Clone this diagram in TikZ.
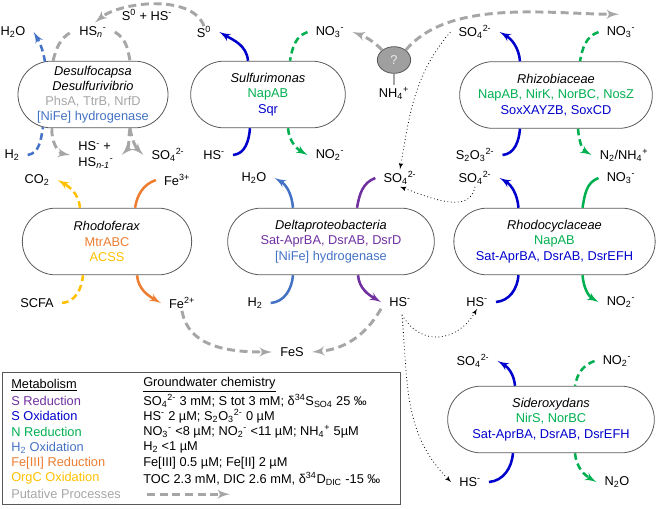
\documentclass[tikz,border=0pt]{standalone}
\usepackage{fontspec}
\setmainfont{Liberation Sans}
\usepackage{tikz}
\usetikzlibrary{arrows,calc,shapes.misc,shapes.geometric}

\definecolor{sredc}{HTML}{7030A0}
\definecolor{soxc}{HTML}{0000CC}
\definecolor{nredc}{HTML}{00B050}
\definecolor{hoxc}{HTML}{4472C4}
\definecolor{fec}{HTML}{ED7D31}
\definecolor{orgcc}{HTML}{FFC000}
\definecolor{putc}{HTML}{A6A6A6}
\definecolor{boxc}{HTML}{595959}

\newcommand{\ssub}[1]{\textsubscript{#1}}
\newcommand{\ssup}[1]{\textsuperscript{#1}}

\begin{document}
\begin{tikzpicture}[x=0.75pt,y=-0.75pt,>=latex',
		every node/.style={font=\fontsize{9.6}{11.4}\selectfont},
		org/.style={draw=boxc,line width=0.6pt,rounded rectangle,minimum height=50pt,align=center,inner sep=2pt},
		lbl/.style={inner xsep=6pt,inner ysep=1.5pt},
		legtxt/.style={anchor=west,inner sep=0pt},
		sred/.style={draw=sredc,line width=1.9pt},
		sox/.style={draw=soxc,line width=1.9pt},
		nred/.style={draw=nredc,line width=1.9pt},
		hox/.style={draw=hoxc,line width=1.9pt},
		fered/.style={draw=fec,line width=1.9pt},
		corg/.style={draw=orgcc,line width=1.9pt},
		dsh/.style={dash pattern=on 5pt off 3pt},
		puta/.style={draw=putc,line width=2.2pt,dash pattern=on 6pt off 3.5pt},
		link/.style={draw=black,line width=0.6pt,dotted}]
		\useasboundingbox (0,0) rectangle (660,508);

		\node[org,minimum width=112.5pt] (desulfo) at (93,94.5) {\textit{Desulfocapsa}\\\textit{Desulfurivibrio}\\\textcolor{putc}{PhsA, TtrB, NrfD}\\\textcolor{hoxc}{[NiFe] hydrogenase}};
		\node[org,minimum width=120pt] (sulfuri) at (268,94.5) {\textit{Sulfurimonas}\\\textcolor{nredc}{NapAB}\\\textcolor{soxc}{Sqr}};
		\node[org,minimum width=148.5pt] (rhizo) at (556,95) {\textit{Rhizobiaceae}\\\textcolor{nredc}{NapAB, NirK, NorBC, NosZ}\\\textcolor{soxc}{SoxXAYZB, SoxCD}};
		\node[org,minimum width=131pt] (rhodof) at (107,241.5) {\textit{Rhodoferax}\\\textcolor{fec}{MtrABC}\\\textcolor{orgcc}{ACSS}};
		\node[org,minimum width=159pt] (delta) at (331,241.5) {\textit{Deltaproteobacteria}\\\textcolor{sredc}{Sat-AprBA, DsrAB, DsrD}\\\textcolor{hoxc}{[NiFe] hydrogenase}};
		\node[org,minimum width=155pt] (rhodoc) at (554.5,241.5) {\textit{Rhodocyclaceae}\\\textcolor{nredc}{NapAB}\\\textcolor{soxc}{Sat-AprBA, DsrAB, DsrEFH}};
		\node[org,minimum width=159pt] (sidero) at (551,419.5) {\textit{Sideroxydans}\\\textcolor{nredc}{NirS, NorBC}\\\textcolor{soxc}{Sat-AprBA, DsrAB, DsrEFH}};

		\node[ellipse,draw=boxc,line width=0.6pt,fill=gray!75,minimum width=25pt,minimum height=20pt,inner sep=0pt,text=white!85!gray] (unk) at (394,60) {?};

		\node[lbl] (h2o_1) at (13,32) {H\ssub{2}O};
		\node[lbl] (hsn) at (93,32) {HS\ssub{\textit{n}}\ssup{-}};
		\node[lbl] (s0) at (204,32) {S\ssup{0}};
		\node[lbl] (s0hs) at (147,15) {S\ssup{0} + HS\ssup{-}};
		\node[lbl] (no3_1) at (330,32) {NO\ssub{3}\ssup{-}};
		\node[lbl] (nh4) at (394,93) {NH\ssub{4}\ssup{+}};
		\node[lbl] (so4_top) at (475,32) {SO\ssub{4}\ssup{2-}};
		\node[lbl] (no3_2) at (621,32) {NO\ssub{3}\ssup{-}};

		\node[lbl] (h2_1) at (12,155) {H\ssub{2}};
		\node[lbl,align=left] (hsmix) at (96,155) {HS\ssup{-} +\\HS\ssub{\textit{n-1}}\ssup{-}};
		\node[lbl] (so4_1) at (168,155) {SO\ssub{4}\ssup{2-}};
		\node[lbl] (hs_1) at (214,155) {HS\ssup{-}};
		\node[lbl] (no2_1) at (330,155) {NO\ssub{2}\ssup{-}};
		\node[lbl] (s2o3) at (475,155) {S\ssub{2}O\ssub{3}\ssup{2-}};
		\node[lbl] (n2nh4) at (624,155) {N\ssub{2}/NH\ssub{4}\ssup{+}};

		\node[lbl] (co2) at (37,180) {CO\ssub{2}};
		\node[lbl] (fe3) at (177,180) {Fe\ssup{3+}};
		\node[lbl] (h2o_2) at (254,178) {H\ssub{2}O};
		\node[lbl] (so4_2) at (400,178) {SO\ssub{4}\ssup{2-}};
		\node[lbl] (so4_3) at (475,178) {SO\ssub{4}\ssup{2-}};
		\node[lbl] (no3_3) at (621,178) {NO\ssub{3}\ssup{-}};

		\node[lbl] (scfa) at (37,303) {SCFA};
		\node[lbl] (fe2) at (182,303) {Fe\ssup{2+}};
		\node[lbl] (h2_2) at (255,303) {H\ssub{2}};
		\node[lbl] (hs_2) at (400,302) {HS\ssup{-}};
		\node[lbl] (hs_3) at (477,302) {HS\ssup{-}};
		\node[lbl] (no2_2) at (621,302) {NO\ssub{2}\ssup{-}};

		\node[lbl] (fes) at (292,352) {FeS};
		\node[lbl] (so4_4) at (473,361) {SO\ssub{4}\ssup{2-}};
		\node[lbl] (no2_3) at (617,361) {NO\ssub{2}\ssup{-}};
		\node[lbl] (hs_4) at (470,482) {HS\ssup{-}};
		\node[lbl] (n2o) at (617,482) {N\ssub{2}O};

		\draw[hox,dsh,->] ($(desulfo.north)+(-48,1)$) to[out=100,in=-60] (h2o_1.east);
		\draw[puta] ($(desulfo.north)+(-40,0)$) to[out=75,in=-150] (hsn.west);
		\draw[puta] (hsn.east) to[out=-30,in=100] ($(desulfo.north)+(37,0)$);
		\draw[puta,->,shorten >=2pt] ($(s0.north)+(0,2)$) to[out=110,in=40,looseness=0.8] (hsn.north);
		\draw[hox,dsh] (h2_1.east) to[out=10,in=-100] ($(desulfo.south)+(-50,-1)$);
		\draw[puta,->] ($(desulfo.south)+(-41,0)$) to[out=-95,in=170] (hsmix.west);
		\draw[puta,->] ($(desulfo.south)+(37,0)$) to[out=-100,in=45] (hsmix.east);
		\draw[puta,->] ($(desulfo.south)+(37,0)$) to[out=-80,in=135] (so4_1.west);

		\draw[sox,->] ($(sulfuri.north)+(-20,0)$) to[out=95,in=-30] (s0.east);
		\draw[nred,dsh] (no3_1.west) to[out=200,in=80] ($(sulfuri.north)+(22,0)$);
		\draw[sox] (hs_1.east) to[out=5,in=-95] ($(sulfuri.south)+(-18,0)$);
		\draw[nred,dsh,->] ($(sulfuri.south)+(20,0)$) to[out=-85,in=150] (no2_1.west);

		\draw[puta,->] (unk.140) to[out=135,in=-20] (no3_1.east);
		\draw[puta,->] (unk.40) to[out=50,in=180,looseness=0.8] ($(no3_2.north)+(-2,-10)$);
		\draw[draw=putc,line width=2.2pt] (unk.south) -- (nh4.north);

		\draw[link,->] (so4_top.west) to[out=-130,in=80] (so4_2.north);
		\draw[link,->] (so4_3.south) to[out=-100,in=-20] (so4_2.south);
		\draw[link,->] ($(hs_2.south)+(2,6)$) to[out=-60,in=-120,looseness=1.3] (hs_3.south);
		\draw[link,->] ($(hs_2.south)+(2,6)$) to[out=-85,in=135] (hs_4.west);
		\draw[puta,->] (fe2.south) to[out=-80,in=180] (fes.west);
		\draw[puta,->] (hs_2.south west) to[out=-120,in=5] (fes.east);

		\draw[corg,dsh,->] ($(rhodof.north)+(-27,0)$) to[out=95,in=-30] (co2.east);
		\draw[fered] (fe3.west) to[out=200,in=80] ($(rhodof.north)+(28,0)$);
		\draw[corg,dsh] (scfa.east) to[out=5,in=-95] ($(rhodof.south)+(-24,0)$);
		\draw[fered,->] ($(rhodof.south)+(30,0)$) to[out=-85,in=150] (fe2.west);

		\draw[hox,->] ($(delta.north)+(-38,0)$) to[out=95,in=-30] (h2o_2.east);
		\draw[sred] (so4_2.west) to[out=200,in=80] ($(delta.north)+(26,0)$);
		\draw[hox] (h2_2.east) to[out=5,in=-95] ($(delta.south)+(-38,0)$);
		\draw[sred,->] ($(delta.south)+(27,0)$) to[out=-85,in=150] (hs_2.west);

		\draw[sox,->] ($(rhodoc.north)+(-36,0)$) to[out=95,in=-30] (so4_3.east);
		\draw[nred] (no3_3.west) to[out=200,in=80] ($(rhodoc.north)+(28,0)$);
		\draw[sox] (hs_3.east) to[out=5,in=-95] ($(rhodoc.south)+(-36,0)$);
		\draw[nred,->] ($(rhodoc.south)+(28,0)$) to[out=-85,in=150] (no2_2.west);

		\draw[sox,->] ($(rhizo.north)+(-36,0)$) to[out=95,in=-30] (so4_top.east);
		\draw[nred,dsh] (no3_2.west) to[out=200,in=80] ($(rhizo.north)+(24,0)$);
		\draw[sox] (s2o3.east) to[out=5,in=-95] ($(rhizo.south)+(-36,0)$);
		\draw[nred,dsh,->] ($(rhizo.south)+(22,0)$) to[out=-85,in=150] (n2nh4.west);

		\draw[sox,->] ($(sidero.north)+(-36,0)$) to[out=95,in=-30] (so4_4.east);
		\draw[nred,dsh] (no2_3.west) to[out=200,in=80] ($(sidero.north)+(24,0)$);
		\draw[sox] (hs_4.east) to[out=5,in=-95] ($(sidero.south)+(-38,0)$);
		\draw[nred,dsh,->] ($(sidero.south)+(24,0)$) to[out=-85,in=150] (n2o.west);

		\draw[draw=boxc,line width=0.6pt] (2,372) rectangle (400,504);
		\node[legtxt] (leg_m) at (11,385) {\underline{Metabolism}};
		\node[legtxt,text=sredc] (leg_sr) at (11,400.6) {S Reduction};
		\node[legtxt,text=soxc] (leg_so) at (11,416.2) {S Oxidation};
		\node[legtxt,text=nredc] (leg_nr) at (11,431.8) {N Reduction};
		\node[legtxt,text=hoxc] (leg_ho) at (11,447.4) {H\ssub{2} Oxidation};
		\node[legtxt,text=fec] (leg_fe) at (11,463) {Fe[III] Reduction};
		\node[legtxt,text=orgcc] (leg_oc) at (11,478.6) {OrgC Oxidation};
		\node[legtxt,text=putc] (leg_pp) at (11,494.2) {Putative Processes};
		\node[legtxt] (chem_h) at (143,385) {\underline{Groundwater chemistry}};
		\node[legtxt] (chem_s) at (143,400.6) {SO\ssub{4}\ssup{2-} 3 mM; S tot 3 mM; δ\ssup{34}S\ssub{SO4} 25 ‰};
		\node[legtxt] (chem_hs) at (143,416.2) {HS\ssup{-} 2 µM; S\ssub{2}O\ssub{3}\ssup{2-} 0 µM};
		\node[legtxt] (chem_n) at (143,431.8) {NO\ssub{3}\ssup{-} <8 µM; NO\ssub{2}\ssup{-} <11 µM; NH\ssub{4}\ssup{+} 5µM};
		\node[legtxt] (chem_h2) at (143,447.4) {H\ssub{2} <1 µM};
		\node[legtxt] (chem_fe) at (143,463) {Fe[III] 0.5 µM; Fe[II] 2 µM};
		\node[legtxt] (chem_c) at (143,478.6) {TOC 2.3 mM, DIC 2.6 mM, δ\ssup{34}D\ssub{DIC} -15 ‰};
		\coordinate (leg_a) at (147,494.2);
		\coordinate (leg_b) at (230,494.2);
		\draw[puta,->] (leg_a) -- (leg_b);
	\end{tikzpicture}
\end{document}
